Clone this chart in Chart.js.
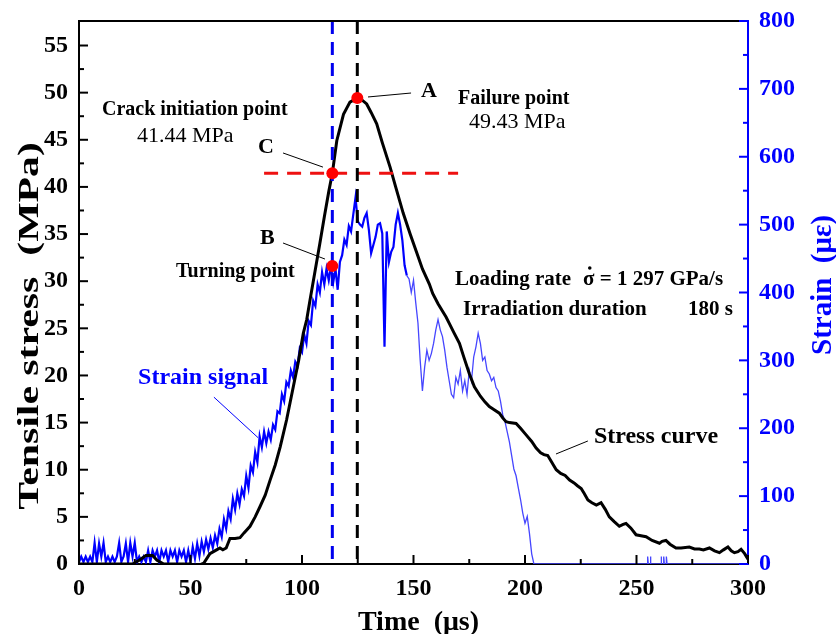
<!DOCTYPE html>
<html>
<head>
<meta charset="utf-8">
<script src="https://cdn.jsdelivr.net/npm/chart.js@4.4.1/dist/chart.umd.min.js"></script>
<style>
  html, body { margin: 0; padding: 0; background: #fff; }
</style>
</head>
<body>
<canvas id="stressChart" width="836" height="634"></canvas>
<script>
// stress curve (MPa)
const stressTime = [0, 24, 27, 30, 33, 35, 38, 50, 53, 56,
    58.7, 61.7, 63.2, 64.5, 66, 67.7, 70, 72.2, 74, 76.7,
    79, 81.2, 83.5, 85.7, 88, 90.2, 93.1, 96.1, 98.5, 100.6,
    102.1, 103.6, 105.8, 108, 110, 112, 113.6, 115.6, 118.6, 121.5,
    124.8, 127, 129, 131, 133.5, 136, 139.5, 142, 145.4, 148.5,
    151.5, 154, 157.1, 158.6, 161, 164.6, 166.1, 168, 170.6, 172.5,
    175, 177.3, 180, 182, 184, 186, 188.5, 190, 191.5, 193,
    196, 198, 200.5, 203, 205, 207, 208.5, 210.2, 212, 214,
    216, 218, 220, 222, 223.5, 225.2, 226.5, 228.2, 230, 232,
    234.1, 236, 237.8, 240, 242.3, 244, 245.3, 247.5, 249.8, 252,
    254.3, 257, 260.3, 261.5, 263.2, 265, 267.7, 270, 273.7, 276,
    278.2, 280, 282.7, 285, 287.2, 289, 291, 292.5, 293.9, 295.5,
    296.9, 298.5, 300];
const stressValue = [0, 0, 0.4, 0.9, 0.9, 0.4, 0, 0, -0.2, 0.1,
    1.1, 1.5, 1.7, 1.5, 1.7, 2.7, 2.7, 2.8, 3.3, 4.0,
    5.0, 6.1, 7.3, 8.9, 10.5, 12.4, 15.3, 18.8, 21.6, 24.5,
    25.9, 28.0, 31.0, 34.0, 36.8, 39.5, 41.44, 44.9, 47.7, 49.0,
    49.43, 49.2, 48.8, 47.9, 46.7, 44.7, 42.1, 40.0, 37.2, 35.0,
    33.0, 31.3, 29.7, 28.7, 27.6, 26.2, 25.5, 24.6, 23.4, 22.0,
    20.2, 18.8, 17.8, 17.2, 16.7, 16.4, 16.0, 15.5, 15.1, 15.0,
    14.9, 14.4, 13.7, 13.0, 12.3, 11.8, 11.6, 11.5, 10.8, 10.0,
    9.6, 9.4, 8.9, 8.6, 8.3, 8.0, 7.5, 6.8, 6.5, 6.25,
    6.5, 5.8, 5.0, 4.5, 4.0, 4.2, 4.3, 3.8, 3.1, 3.0,
    2.9, 2.5, 2.2, 2.4, 2.5, 2.1, 1.7, 1.7, 1.8, 1.6,
    1.6, 1.5, 1.7, 1.4, 1.2, 1.5, 1.8, 1.4, 1.2, 1.3,
    1.55, 1.1, 0.5];

// strain signal (με), one reading per μs from 0 to 204 μs
const strainValue = [
    3, 11, 3, 11, 3, 11, 3, 31, 3, 30,
    11, 31, 3, 11, 3, 11, 3, 11, 31, 3,
    11, 30, 3, 31, 11, 31, 3, 11, 3, 11,
    3, 20, 3, 20, 11, 20, 3, 20, 11, 20,
    3, 20, 11, 20, 3, 20, 11, 20, 3, 20,
    3, 25, 8, 30, 12, 33, 18, 36, 22, 38,
    24, 42, 30, 52, 40, 66, 52, 78, 66, 96,
    80, 104, 88, 110, 100, 130, 112, 145, 135, 165,
    150, 188, 172, 195, 178, 195, 183, 205, 198, 225,
    222, 250, 240, 268, 262, 285, 275, 298, 292, 318,
    312, 338, 325, 358, 352, 388, 380, 412, 400, 430,
    412, 435, 418, 438, 415, 435, 404, 445, 455, 478,
    470, 498, 490, 515, 540, 505, 500, 497, 510, 517,
    492, 458, 470, 482, 500, 502, 487, 320, 490, 445,
    460, 467, 500, 517, 500, 477, 440, 425, 420, 400,
    418, 385, 355, 300, 255, 290, 315, 300, 310, 325,
    345, 360, 345, 335, 315, 290, 270, 250, 245, 275,
    265, 285, 255, 270, 250, 285, 270, 305, 320, 340,
    325, 300, 305, 285, 280, 270, 275, 260, 255, 240,
    220, 210, 195, 180, 160, 140, 130, 112, 95, 75,
    60, 70, 45, 15, 0];
// after the gauge drops out: flat zero with a few short blips
const strainTailTime = [205, 255, 255, 255.3, 256.2, 256.2, 256.5, 261, 261, 261.3, 262.2, 262.2, 262.5, 263.4, 263.4, 263.7, 300];
const strainTailValue = [0, 0, 11, 0, 0, 11, 0, 0, 11, 0, 0, 11, 0, 0, 11, 0, 0];

// tick labels
const timeTicks = [0, 50, 100, 150, 200, 250, 300];
const stressTicks = [0, 5, 10, 15, 20, 25, 30, 35, 40, 45, 50, 55];
const strainTicks = [0, 100, 200, 300, 400, 500, 600, 700, 800];

// marked points
const crackTime = 113.6;
const crackStress = 41.44;
const failureTime = 124.8;
const failureStress = 49.43;
const turningStrain = 439;
const crackLevelFrom = 83;
const crackLevelTo = 170;

const stressMax = 57.6;
const strainMax = 800;
const strainSplit = 147;   // gauge trace gets fainter after this time

const serif = '"Liberation Serif", "Times New Roman", serif';
const tickFont = { family: serif, size: 24, weight: 'bold' };

const stressData = stressTime.map((t, i) => ({ x: t, y: stressValue[i] }));
const strainAll = strainValue.map((v, i) => ({ x: i, y: v }))
    .concat(strainTailTime.map((t, i) => ({ x: t, y: strainTailValue[i] })));
const strainEarly = strainAll.filter(p => p.x <= strainSplit);
const strainLate = strainAll.filter(p => p.x >= strainSplit);

// text notes and leader lines, anchored in data units (time, stress)
const notes = [
    ['Crack initiation point', 10.3, 47.6, 'bold 20px', '#000'],
    ['41.44 MPa', 26.0, 44.77, '22px', '#000'],
    ['C', 80.3, 43.6, 'bold 22px', '#000'],
    ['B', 81.2, 33.95, 'bold 22px', '#000'],
    ['Turning point', 43.5, 30.44, 'bold 20px', '#000'],
    ['A', 153.4, 49.54, 'bold 22px', '#000'],
    ['Failure point', 170.0, 48.8, 'bold 20px', '#000'],
    ['49.43 MPa', 174.9, 46.25, '22px', '#000'],
    ['Irradiation duration', 172.2, 26.41, 'bold 21px', '#000'],
    ['180 s', 273.1, 26.41, 'bold 21px', '#000'],
    ['Strain signal', 26.5, 19.09, 'bold 24px', '#0000ff'],
    ['Stress curve', 230.9, 12.84, 'bold 24px', '#000']
];
const leaders = [
    [129.6, 49.54, 148.9, 49.96, '#000'],
    [91.5, 43.6, 109.4, 42.1, '#000'],
    [91.5, 34.05, 110.3, 32.35, '#000'],
    [60.5, 17.7, 80.3, 13.4, '#0000ff'],
    [213.9, 11.67, 228.2, 13.05, '#000']
];

const frame = {
    id: 'frame',
    afterDraw(chart) {
        const ctx = chart.ctx;
        const { left, right, top, bottom } = chart.chartArea;
        const sx = chart.scales.x, sy = chart.scales.y, sy2 = chart.scales.y2;
        ctx.save();

        // top border
        ctx.strokeStyle = '#000';
        ctx.lineWidth = 2;
        ctx.beginPath();
        ctx.moveTo(left, top);
        ctx.lineTo(right, top);
        ctx.stroke();

        // inward tick marks (major + minor)
        ctx.lineWidth = 2;
        ctx.strokeStyle = '#000';
        for (let v = 0; v <= 300; v += 25) {
            const p = sx.getPixelForValue(v);
            const len = v % 50 === 0 ? 9 : 5;
            ctx.beginPath(); ctx.moveTo(p, bottom); ctx.lineTo(p, bottom - len); ctx.stroke();
        }
        for (let v = 0; v <= 55; v += 2.5) {
            const p = sy.getPixelForValue(v);
            const len = v % 5 === 0 ? 9 : 5;
            ctx.beginPath(); ctx.moveTo(left, p); ctx.lineTo(left + len, p); ctx.stroke();
        }
        ctx.strokeStyle = '#0000ff';
        for (let v = 0; v <= 800; v += 50) {
            const p = sy2.getPixelForValue(v);
            const len = v % 100 === 0 ? 9 : 5;
            ctx.beginPath(); ctx.moveTo(right, p); ctx.lineTo(right - len, p); ctx.stroke();
        }

        // leader lines
        ctx.lineWidth = 1;
        leaders.forEach(([x1, y1, x2, y2, c]) => {
            ctx.strokeStyle = c;
            ctx.beginPath();
            ctx.moveTo(sx.getPixelForValue(x1), sy.getPixelForValue(y1));
            ctx.lineTo(sx.getPixelForValue(x2), sy.getPixelForValue(y2));
            ctx.stroke();
        });

        // notes
        ctx.textAlign = 'left';
        ctx.textBaseline = 'alphabetic';
        notes.forEach(([text, t, s, font, c]) => {
            ctx.font = font + ' ' + serif;
            ctx.fillStyle = c;
            ctx.fillText(text, sx.getPixelForValue(t), sy.getPixelForValue(s));
        });

        // loading rate, with the rate dot over sigma
        ctx.font = 'bold 21px ' + serif;
        ctx.fillStyle = '#000';
        let lx = sx.getPixelForValue(168.6);
        const ly = sy.getPixelForValue(29.6);
        ctx.fillText('Loading rate', lx, ly);
        lx += ctx.measureText('Loading rate').width + 12;
        ctx.fillText('\u03C3 = 1 297 GPa/s', lx, ly);
        const sw = ctx.measureText('\u03C3').width;
        ctx.beginPath();
        ctx.arc(lx + sw / 2 + 1, ly - 17, 1.8, 0, Math.PI * 2);
        ctx.fill();

        // axis titles
        ctx.fillStyle = '#000';
        ctx.font = 'bold 28px ' + serif;
        ctx.textAlign = 'center';
        ctx.fillText('Time  (\u03BCs)', (left + right) / 2 + 5, 630);

        ctx.save();
        ctx.translate(38, 326);
        ctx.rotate(-Math.PI / 2);
        ctx.scale(1.44, 1);
        ctx.font = 'bold 29px ' + serif;
        ctx.fillText('Tensile stress  (MPa)', 0, 0);
        ctx.restore();

        ctx.save();
        ctx.translate(831, 285);
        ctx.rotate(-Math.PI / 2);
        ctx.fillStyle = '#0000ff';
        ctx.font = 'bold 29px ' + serif;
        ctx.fillText('Strain  (\u03BC\u03B5)', 0, 0);
        ctx.restore();

        ctx.restore();
    }
};

const noPad = scale => { scale.paddingTop = 0; scale.paddingBottom = 0; };

new Chart(document.getElementById('stressChart'), {
    type: 'line',
    data: {
        datasets: [{
            label: 'marked stress points',
            data: [{ x: crackTime, y: crackStress }, { x: failureTime, y: failureStress }],
            showLine: false,
            pointRadius: 6,
            pointBackgroundColor: '#ff0000',
            pointBorderWidth: 0,
            yAxisID: 'y',
            order: 0
        }, {
            label: 'turning point',
            data: [{ x: crackTime, y: turningStrain }],
            showLine: false,
            pointRadius: 6,
            pointBackgroundColor: '#ff0000',
            pointBorderWidth: 0,
            yAxisID: 'y2',
            order: 0
        }, {
            label: 'crack time',
            data: [{ x: crackTime, y: stressMax }, { x: crackTime, y: 0 }],
            borderColor: '#0000ee',
            borderWidth: 3,
            borderDash: [13, 8],
            pointRadius: 0,
            yAxisID: 'y',
            order: 1
        }, {
            label: 'failure time',
            data: [{ x: failureTime, y: stressMax }, { x: failureTime, y: 0 }],
            borderColor: '#000',
            borderWidth: 3,
            borderDash: [13, 8],
            pointRadius: 0,
            yAxisID: 'y',
            order: 1
        }, {
            label: 'crack level',
            data: [{ x: crackLevelFrom, y: crackStress }, { x: crackLevelTo, y: crackStress }],
            borderColor: '#ee1111',
            borderWidth: 3,
            borderDash: [14, 9],
            pointRadius: 0,
            yAxisID: 'y',
            order: 1
        }, {
            label: 'Stress curve',
            data: stressData,
            borderColor: '#000',
            borderWidth: 3,
            pointRadius: 0,
            yAxisID: 'y',
            order: 2
        }, {
            label: 'Strain signal',
            data: strainEarly,
            borderColor: '#0000ff',
            borderWidth: 2.2,
            pointRadius: 0,
            yAxisID: 'y2',
            order: 3
        }, {
            label: 'Strain signal (late)',
            data: strainLate,
            borderColor: '#4646ff',
            borderWidth: 1.3,
            pointRadius: 0,
            yAxisID: 'y2',
            order: 3
        }]
    },
    options: {
        responsive: false,
        animation: false,
        layout: { padding: { top: 21, left: 0, right: 0, bottom: 0 } },
        plugins: {
            legend: { display: false },
            tooltip: { enabled: false }
        },
        elements: { line: { tension: 0 } },
        scales: {
            x: {
                type: 'linear',
                min: 0,
                max: 300,
                grid: { display: false, drawTicks: false },
                border: { display: true, color: '#000', width: 2 },
                ticks: { font: tickFont, color: '#000', padding: 10, maxRotation: 0 },
                afterBuildTicks: scale => { scale.ticks = timeTicks.map(v => ({ value: v })); },
                afterFit: scale => { scale.height = 70; scale.paddingLeft = 0; scale.paddingRight = 0; }
            },
            y: {
                type: 'linear',
                position: 'left',
                min: 0,
                max: stressMax,
                grid: { display: false, drawTicks: false },
                border: { display: true, color: '#000', width: 2 },
                ticks: { font: tickFont, color: '#000', padding: 11 },
                afterBuildTicks: scale => { scale.ticks = stressTicks.map(v => ({ value: v })); },
                afterFit: scale => { scale.width = 79; noPad(scale); }
            },
            y2: {
                type: 'linear',
                position: 'right',
                min: 0,
                max: strainMax,
                grid: { display: false, drawTicks: false },
                border: { display: true, color: '#0000ff', width: 2 },
                ticks: { font: tickFont, color: '#0000ff', padding: 11 },
                afterBuildTicks: scale => { scale.ticks = strainTicks.map(v => ({ value: v })); },
                afterFit: scale => { scale.width = 88; noPad(scale); }
            }
        }
    },
    plugins: [frame]
});
</script>
</body>
</html>
